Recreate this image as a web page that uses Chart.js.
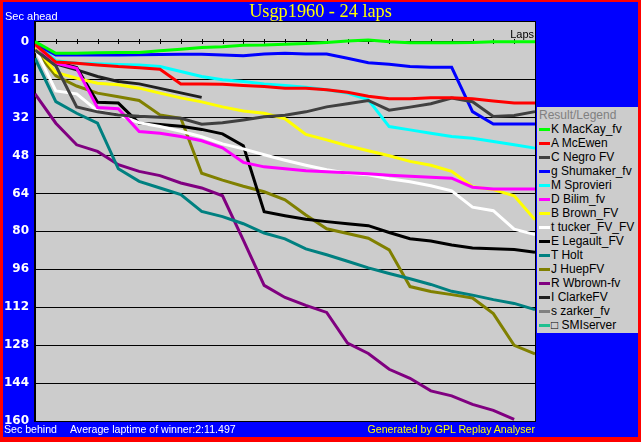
<!DOCTYPE html>
<html>
<head>
<meta charset="utf-8">
<title>Usgp1960 - 24 laps</title>
<script src="https://cdn.jsdelivr.net/npm/chart.js@4.4.1/dist/chart.umd.min.js"></script>
<style>
  html, body { margin: 0; padding: 0; }
  body {
    width: 641px; height: 442px; position: relative; overflow: hidden;
    background: #ff0000;
    font-family: "Liberation Sans", Arial, sans-serif;
  }
  #frame { position: absolute; left: 3px; top: 2px; width: 635px; height: 435px; background: #0000ff; }
  #chart { position: absolute; left: 0; top: 0; }
  .txt { position: absolute; white-space: nowrap; }
  #title {
    left: 0; width: 641px; top: 0; text-align: center;
    font-family: "Liberation Serif", "Times New Roman", serif;
    font-size: 18.3px; line-height: 22px; color: #ffff00;
  }
  .small { font-size: 11px; line-height: 13px; color: #fff; }
  .foot { font-size: 10.6px; line-height: 13px; color: #fff; top: 423px; }
  #laps { right: 107px; top: 28px; color: #000; }
  #legend {
    position: absolute; left: 537px; top: 107px; width: 101px; height: 226px;
    background: #cccccc; padding-top: 1px; box-sizing: border-box;
    font-size: 12px; line-height: 14px;
  }
  #legend .head { color: #808080; padding-left: 2px; height: 14px; }
  #legend .item { position: relative; height: 14px; padding-left: 14px; color: #000; white-space: nowrap; }
  #legend .item i { position: absolute; left: 2px; top: 6px; width: 11px; height: 3px; }
</style>
</head>
<body>
<div id="frame"></div>
<canvas id="chart" width="641" height="442"></canvas>
<div class="txt" id="title">Usgp1960 - 24 laps</div>
<div class="txt small" style="left:5px; top:10px;">Sec ahead</div>
<div class="txt small" id="laps">Laps</div>
<div class="txt foot" style="left:4px;">Sec behind</div>
<div class="txt foot" style="left:70px;">Average laptime of winner:2:11.497</div>
<div class="txt foot" style="right:106px; color:#ffff00;">Generated by GPL Replay Analyser</div>
<div id="legend"><div class="head">Result/Legend</div></div>

<script>
// laps along the x axis
const laps = [0, 1, 2, 3, 4, 5, 6, 7, 8, 9, 10, 11, 12, 13, 14, 15, 16, 17, 18, 19, 20, 21, 22, 23, 24];
const yTicks = [0, 16, 32, 48, 64, 80, 96, 112, 128, 144, 160];

// seconds behind per lap
const mackay    = [0, 4.9, 4.9, 4.7, 4.6, 4.6, 3.8, 3.2, 2.5, 2.1, 1.5, 1.4, 1.1, 0.8, 0.3, -0.3, -0.7, 0, 0.4, 0.4, 0.4, 0.3, 0, 0, 0];
const mcewen    = [1.0, 8.6, 9.1, 9.8, 10.5, 11, 11.6, 17.8, 17.8, 18, 18.5, 18.9, 19.6, 19.6, 20.3, 21.3, 23, 24.1, 24.1, 23.6, 23.6, 24.1, 25, 25.9, 25.9];
const negro     = [3.5, 10.2, 27.5, 29.6, 30.9, 31.5, 31.9, 32.3, 34.8, 34.2, 33, 31.7, 31, 29.6, 27.5, 26.2, 24.8, 28.9, 27.6, 26.2, 23.8, 25.3, 31.6, 31.1, 29.5];
const shumaker  = [0.7, 5.6, 5.6, 5.6, 5.6, 5.5, 5.4, 5.3, 5.3, 5.6, 5.9, 5.2, 4.9, 5.2, 5.2, 7.0, 8.9, 9.5, 10.5, 10.8, 10.8, 29.5, 34.7, 34.7, 34.7];
const sprovieri = [0.5, 8.0, 9.1, 9.3, 9.6, 9.8, 10.5, 12.6, 14.7, 16.1, 16.8, 17.8, 18.5, 19.2, 20.3, 21.7, 24.5, 35.8, 37.2, 38.6, 40, 40.7, 42.1, 43.5, 44.9];
const bilim     = [1.4, 9.1, 11.2, 27.8, 28.3, 37.9, 38.6, 40, 41.8, 44.8, 50.9, 52.8, 53.6, 54.4, 54.9, 55.3, 55.7, 56.3, 56.8, 57.2, 57.6, 61.4, 62.1, 62.1, 62.1];
const brown     = [2.1, 13, 15.4, 17.5, 18.2, 19.6, 21.7, 23.7, 25.4, 27.5, 29.2, 30.2, 32.5, 39.1, 41.4, 43.9, 46, 48.1, 50.5, 52.1, 54.7, 61.2, 62.4, 65, 75.1];
const tucker    = [2.7, 20.8, 22, 29.2, 30.9, 34.2, 35.8, 37.8, 40.1, 43.1, 45.2, 47.7, 50, 52.1, 54, 55.5, 56.1, 57.8, 59.1, 60.8, 62.9, 69.8, 71.3, 79.1, 81.4];
const legault   = [1.8, 8.5, 10.9, 25.6, 25.9, 34.4, 34.9, 35.7, 37, 38.9, 43.9, 71.7, 73.4, 74.9, 75.9, 76.8, 77.6, 80.5, 83.1, 84.1, 85.8, 87, 87.3, 87.7, 88.8];
const holt      = [7, 25.3, 30.2, 34.4, 53.6, 58.9, 61.7, 64.5, 71.6, 73.8, 76.8, 80.7, 83.2, 87.4, 89.9, 92.6, 95.4, 97.8, 100, 102.4, 105.3, 106.9, 108.8, 110.4, 113];
const huep      = [3.5, 14.4, 18.7, 21.7, 23.2, 24.8, 30.9, 32.3, 55.5, 58.4, 61, 63.3, 66.7, 73.1, 78.9, 80.9, 82.9, 87.8, 103.3, 105.4, 106.7, 108.1, 114.7, 128.1, 131.7];
const wbrown    = [22, 34.4, 43.5, 46.3, 51.9, 54.7, 56.5, 59.6, 61.7, 65, 83.7, 102.8, 107.9, 111.2, 114.2, 127.1, 131.5, 138.2, 142, 147.3, 149.4, 153, 155.5, 159.3];
const clarke    = [2.8, 9.4, 11.9, 14.7, 16.8, 17.8, 19.7, 21.6, 23.5];
const zarker    = [];
const smiserver = [];

const drivers = [
  { name: "K MacKay_fv",    data: mackay,    color: "#00ff00" },
  { name: "A McEwen",       data: mcewen,    color: "#ff0000" },
  { name: "C Negro FV",     data: negro,     color: "#404040" },
  { name: "g Shumaker_fv",  data: shumaker,  color: "#0000ff" },
  { name: "M Sprovieri",    data: sprovieri, color: "#00ffff" },
  { name: "D Bilim_fv",     data: bilim,     color: "#ff00ff" },
  { name: "B Brown_FV",     data: brown,     color: "#ffff00" },
  { name: "t tucker_FV_FV", data: tucker,    color: "#ffffff" },
  { name: "E Legault_FV",   data: legault,   color: "#000000" },
  { name: "T Holt",         data: holt,      color: "#008080" },
  { name: "J HuepFV",       data: huep,      color: "#808000" },
  { name: "R Wbrown-fv",    data: wbrown,    color: "#800080" },
  { name: "I ClarkeFV",     data: clarke,    color: "#202020" },
  { name: "s zarker_fv",    data: zarker,    color: "#808080" },
  { name: "\u25A1 SMIserver", data: smiserver, color: "#20c090" },
];

// gray plot area + black frame
const plotFrame = {
  id: "plotFrame",
  beforeDraw(chart) {
    const a = chart.chartArea, c = chart.ctx;
    c.save();
    c.fillStyle = "#cccccc";
    c.fillRect(a.left, a.top, a.right - a.left, a.bottom - a.top);
    c.restore();
  },
  afterDraw(chart) {
    const a = chart.chartArea, c = chart.ctx;
    c.save();
    c.strokeStyle = "#000";
    c.lineWidth = 1;
    c.strokeRect(a.left - 0.5, a.top - 0.5, a.right - a.left + 1, a.bottom - a.top + 1);
    c.restore();
  }
};

// small lap marks sitting on the zero line
const lapMarks = {
  id: "lapMarks",
  beforeDatasetsDraw(chart) {
    const x = chart.scales.x, y = chart.scales.y, c = chart.ctx;
    const y0 = Math.round(y.getPixelForValue(0));
    c.save();
    c.strokeStyle = "#000";
    c.lineWidth = 1;
    c.beginPath();
    laps.forEach((lap, i) => {
      if (i === 0) return;
      const px = Math.round(x.getPixelForValue(i)) + 0.5;
      c.moveTo(px, y0 - 3);
      c.lineTo(px, y0 + 2);
    });
    c.stroke();
    c.restore();
  }
};

const ctx = document.getElementById("chart").getContext("2d");
new Chart(ctx, {
  type: "line",
  data: {
    labels: laps,
    datasets: drivers.map(d => ({
      label: d.name,
      data: d.data,
      borderColor: d.color,
      backgroundColor: d.color,
      borderWidth: 3,
      pointRadius: 0,
      tension: 0,
      fill: false,
    })),
  },
  options: {
    responsive: false,
    animation: false,
    devicePixelRatio: 1,
    layout: { padding: { top: 22, bottom: 21, right: 106, left: 0 } },
    plugins: {
      legend: { display: false },
      tooltip: { enabled: false },
    },
    scales: {
      x: { display: false, offset: false },
      y: {
        reverse: true,
        min: -8.3,
        max: 160,
        afterBuildTicks: (scale) => { scale.ticks = yTicks.map(v => ({ value: v })); },
        afterFit: (scale) => { scale.width = 35; },
        grid: { color: "#000", lineWidth: 1, drawTicks: false },
        border: { display: true, color: "#000", width: 1 },
        ticks: {
          color: "#ffffff",
          padding: 6,
          font: { family: "DejaVu Sans", size: 12, weight: "bold" },
        },
      },
    },
  },
  plugins: [plotFrame, lapMarks],
});

// legend box
const legend = document.getElementById("legend");
drivers.forEach(d => {
  const row = document.createElement("div");
  row.className = "item";
  const swatch = document.createElement("i");
  swatch.style.background = d.color;
  row.appendChild(swatch);
  row.appendChild(document.createTextNode(d.name));
  legend.appendChild(row);
});
</script>
</body>
</html>
